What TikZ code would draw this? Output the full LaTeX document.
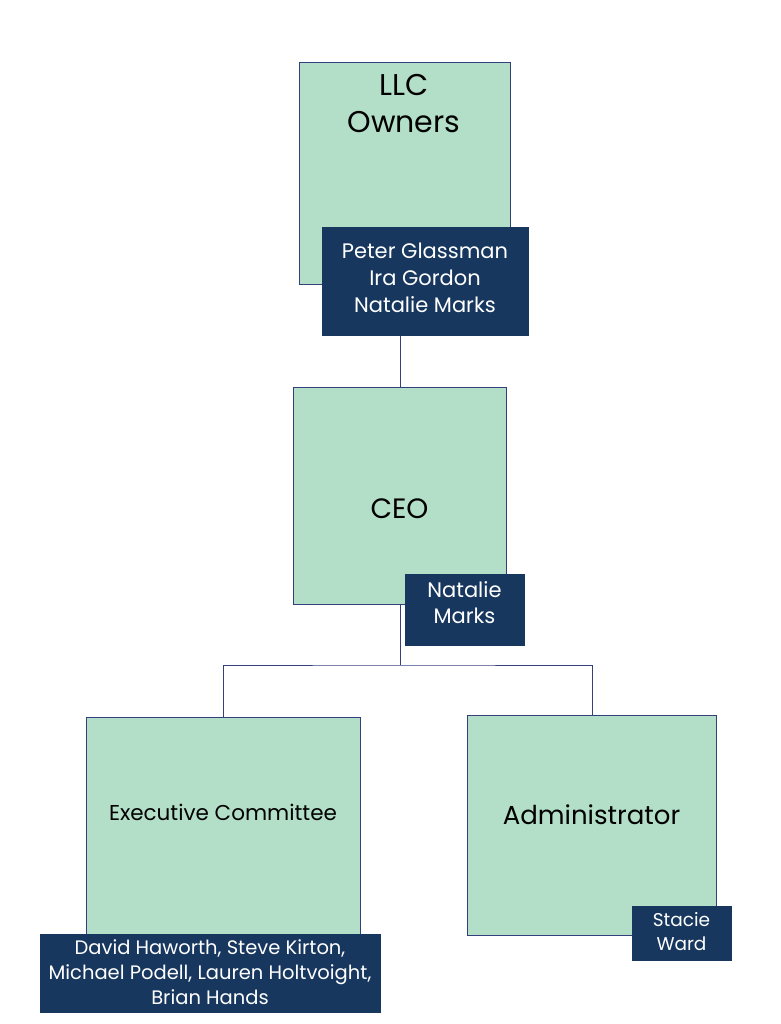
\documentclass[tikz,border=0pt]{standalone}
\usepackage{fontspec}
\setmainfont{Poppins}
\definecolor{boxgreen}{HTML}{B3DFC8}
\definecolor{navy}{HTML}{17375E}
\definecolor{edge}{HTML}{34407E}
\begin{document}
\begin{tikzpicture}[x=1pt,y=-1pt,
  gbox/.style={draw=edge,line width=1pt,fill=boxgreen,inner sep=0pt,anchor=north west},
  nbox/.style={draw=navy,line width=1pt,fill=navy,inner sep=0pt,anchor=north west},
  wtxt/.style={text=white,align=center,inner sep=0pt},
  btxt/.style={text=black,align=center,inner sep=0pt},
  conn/.style={draw=edge,line width=1pt}]
\useasboundingbox (0,0) rectangle (780,1024);
% LLC Owners
\node[gbox,minimum width=211pt,minimum height=222pt] (owners) at (299,62) {};
\node[btxt,font=\fontsize{30}{37}\selectfont] (ownerst) at (404,104) {LLC\\Owners};
\node[nbox,minimum width=206pt,minimum height=108pt] (ownersn) at (322,227) {};
\node[wtxt,font=\fontsize{21}{27}\selectfont] (ownersnt) at (425,278) {Peter Glassman\\Ira Gordon\\Natalie Marks};
% CEO
\node[gbox,minimum width=213pt,minimum height=217pt] (ceo) at (293,387) {};
\node[btxt,font=\fontsize{28}{30}\selectfont] (ceot) at (399.5,509) {CEO};
\node[nbox,minimum width=119pt,minimum height=71pt] (ceon) at (405,574) {};
\node[wtxt,font=\fontsize{21}{26}\selectfont] (ceont) at (464.5,603) {Natalie\\Marks};
% Executive Committee
\node[gbox,minimum width=274pt,minimum height=217pt] (exec) at (86,717) {};
\node[btxt,font=\fontsize{21.5}{24}\selectfont] (exect) at (223,812) {Executive Committee};
\node[nbox,minimum width=340pt,minimum height=78pt] (execn) at (40,934) {};
\node[wtxt,font=\fontsize{19.5}{25}\selectfont] (execnt) at (210,972) {David Haworth, Steve Kirton,\\Michael Podell, Lauren Holtvoight,\\Brian Hands};
% Administrator
\node[gbox,minimum width=249pt,minimum height=220pt] (admin) at (467,715) {};
\node[btxt,font=\fontsize{26}{30}\selectfont] (admint) at (591.5,815) {Administrator};
\node[nbox,minimum width=99pt,minimum height=54pt] (adminn) at (632,906) {};
\node[wtxt,font=\fontsize{18.5}{24}\selectfont] (adminnt) at (681.5,932) {Stacie\\Ward};
% connectors
\draw[conn] (ceo.north) -- (ceo.north |- ownersn.south);
\draw[conn] (ceo.south) -- ++(0,60) coordinate (j);
\draw[conn] (exec.north) |- (j) -| (admin.north);
\end{tikzpicture}
\end{document}
